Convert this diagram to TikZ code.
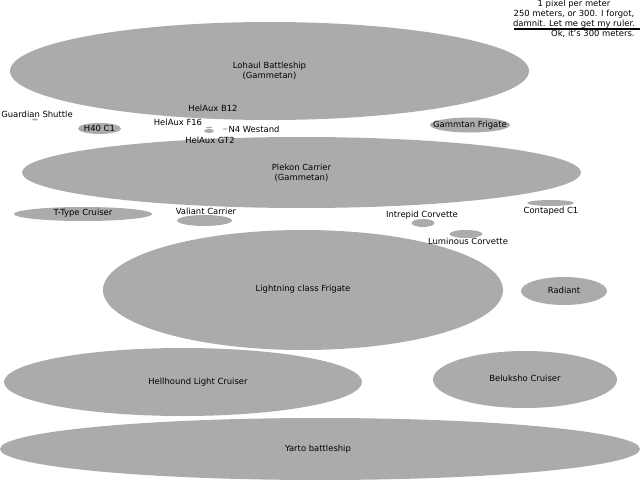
\documentclass[tikz,border=0pt]{standalone}
\usepackage{fontspec}
\setmainfont{DejaVu Sans}
\begin{document}
\begin{tikzpicture}
    [x=0.02cm, y=-0.02cm,
    ship/.style={fill=black!33, draw=none},
    lbl/.style={font=\fontsize{4.8}{5.6}\selectfont, inner sep=0pt, align=center}]
    \useasboundingbox (0,0) rectangle (640,480);

    % ships (hull ellipses)
    \fill [ship] (269.5,71) ellipse [x radius=259.5, y radius=49];
    \fill [ship] (301.5,172.5) ellipse [x radius=279.5, y radius=35.5];
    \fill [ship] (303,290) ellipse [x radius=200, y radius=60];
    \fill [ship] (183,382) ellipse [x radius=179, y radius=34];
    \fill [ship] (320,449) ellipse [x radius=320, y radius=31];
    \fill [ship] (525,379.5) ellipse [x radius=92, y radius=28.5];
    \fill [ship] (564,291) ellipse [x radius=43, y radius=14];
    \fill [ship] (470,125) ellipse [x radius=40, y radius=7.5];
    \fill [ship] (99.5,128.5) ellipse [x radius=21.5, y radius=5.5];
    \fill [ship] (83,214) ellipse [x radius=69, y radius=7];
    \fill [ship] (204.5,220.5) ellipse [x radius=27.5, y radius=5.5];
    \fill [ship] (423,223) ellipse [x radius=11.5, y radius=4];
    \fill [ship] (466,234) ellipse [x radius=16.5, y radius=4];
    \fill [ship] (550.5,203) ellipse [x radius=23.5, y radius=3];
    \fill [ship] (35,119.5) ellipse [x radius=3, y radius=1];
    \fill [ship] (209,131) ellipse [x radius=5, y radius=2];
    \fill [ship] (209,127.5) ellipse [x radius=3, y radius=0.8];
    \fill [ship] (225,129) ellipse [x radius=3, y radius=0.6];

    % names
    \node [lbl] (lohaul) at (269.5,71) {Lohaul Battleship\\(Gammetan)};
    \node [lbl] (plekon) at (301.5,172.5) {Plekon Carrier\\(Gammetan)};
    \node [lbl] (lightning) at (303,289) {Lightning class Frigate};
    \node [lbl] (hellhound) at (198,382) {Hellhound Light Cruiser};
    \node [lbl] (yarto) at (318,449) {Yarto battleship};
    \node [lbl] (beluksho) at (525,378) {Beluksho Cruiser};
    \node [lbl] (radiant) at (564,290) {Radiant};
    \node [lbl] (gammtan) at (470,125) {Gammtan Frigate};
    \node [lbl] (h40) at (99.5,128.5) {H40 C1};
    \node [lbl] (ttype) at (83,213.5) {T-Type Cruiser};
    \node [lbl] (valiant) at (206,211) {Valiant Carrier};
    \node [lbl] (intrepid) at (422,215) {Intrepid Corvette};
    \node [lbl] (luminous) at (468,241) {Luminous Corvette};
    \node [lbl] (contaped) at (551,211) {Contaped C1};
    \node [lbl] (guardian) at (37,114) {Guardian Shuttle};
    \node [lbl] (b12) at (213,108.5) {HelAux B12};
    \node [lbl] (f16) at (178,122.5) {HelAux F16};
    \node [lbl] (gt2) at (210,140.5) {HelAux GT2};
    \node [lbl] (n4) at (254,129) {N4 Westand};

    % scale note
    \node [lbl] (scale) at (574,14) {1 pixel per meter\\250 meters, or 300. I forgot,\\damnit. Let me get my ruler.};
    \coordinate (rulera) at (514,29);
    \coordinate (rulerb) at (640,29);
    \draw [line width=1.2pt] (rulera) -- (rulerb);
    \node [lbl, anchor=east] (ok) at (635,34) {Ok, it's 300 meters.};
\end{tikzpicture}
\end{document}
